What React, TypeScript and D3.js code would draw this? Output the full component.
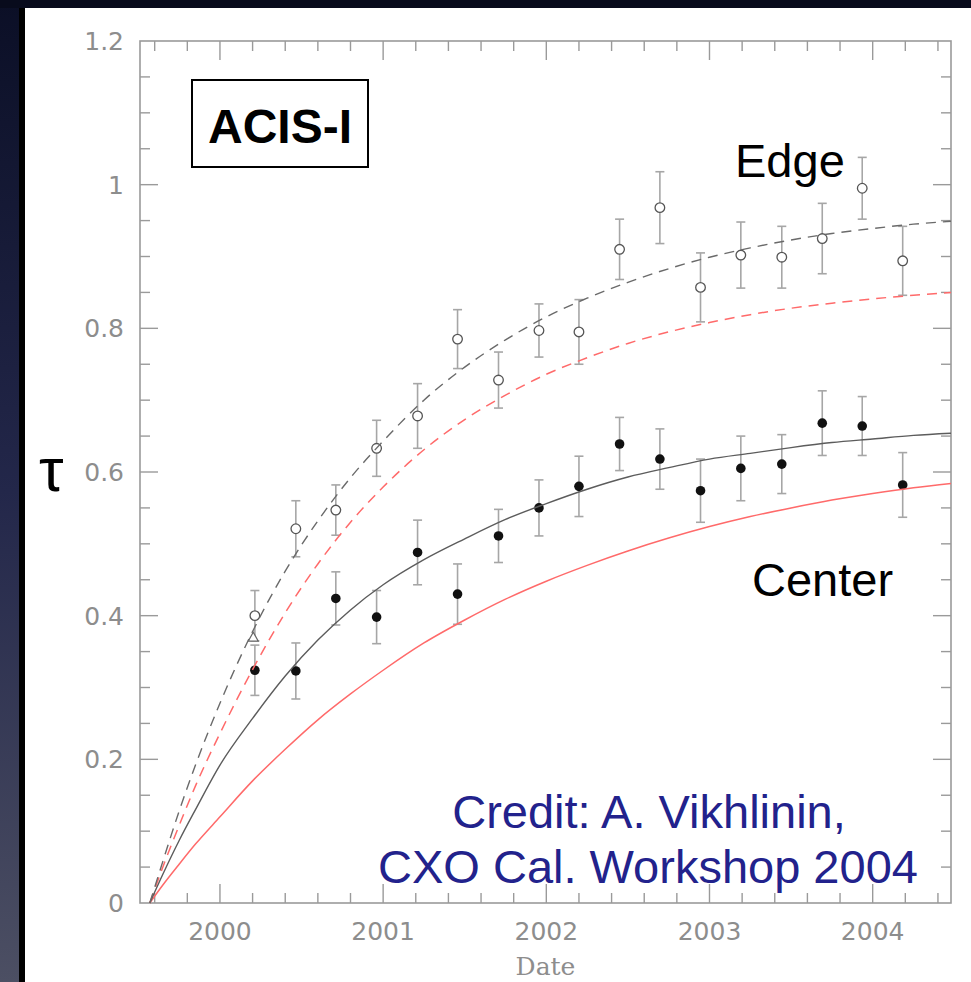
import React from 'react';
import * as d3 from 'd3';

const W = 971;
const H = 982;

// Observation epochs (decimal years)
const obsDates = [
  2000.214, 2000.465, 2000.71, 2000.96, 2001.211, 2001.456, 2001.707, 2001.955,
  2002.2, 2002.449, 2002.696, 2002.945, 2003.192, 2003.443, 2003.691, 2003.936, 2004.184,
];

// Edge of the chip: optical depth and 1-sigma errors
const edgeTau = [0.4, 0.521, 0.547, 0.633, 0.678, 0.785, 0.728, 0.797, 0.795, 0.91, 0.968, 0.857, 0.902, 0.899, 0.925, 0.995, 0.894];
const edgeErr = [0.035, 0.039, 0.035, 0.039, 0.045, 0.041, 0.039, 0.037, 0.045, 0.042, 0.05, 0.048, 0.046, 0.043, 0.049, 0.043, 0.048];

// Center of the chip
const centerTau = [0.324, 0.323, 0.424, 0.398, 0.488, 0.43, 0.511, 0.55, 0.58, 0.639, 0.618, 0.574, 0.605, 0.611, 0.668, 0.664, 0.582];
const centerErr = [0.035, 0.039, 0.037, 0.037, 0.045, 0.042, 0.037, 0.039, 0.042, 0.037, 0.042, 0.044, 0.045, 0.041, 0.045, 0.041, 0.045];

// Single early measurement drawn with a triangle
const triDate = [2000.204];
const triTau = [0.37];

// Fitted and model curves
const curveDates = [
  1999.57, 1999.65, 1999.75, 1999.85, 2000.0, 2000.2, 2000.4, 2000.6, 2000.8, 2001.0, 2001.25, 2001.5,
  2001.75, 2002.0, 2002.25, 2002.5, 2002.75, 2003.0, 2003.25, 2003.5, 2003.75, 2004.0, 2004.25, 2004.48,
];
const edgeFit = [0, 0.058, 0.128, 0.192, 0.278, 0.378, 0.462, 0.532, 0.592, 0.643, 0.7, 0.746, 0.784, 0.816, 0.842, 0.864, 0.883, 0.899, 0.912, 0.923, 0.932, 0.939, 0.945, 0.949];
const edgeModel = [0, 0.05, 0.108, 0.163, 0.236, 0.325, 0.404, 0.472, 0.53, 0.579, 0.631, 0.673, 0.707, 0.736, 0.759, 0.779, 0.795, 0.808, 0.819, 0.828, 0.835, 0.841, 0.846, 0.85];
const centerFit = [0, 0.04, 0.087, 0.13, 0.192, 0.257, 0.316, 0.366, 0.408, 0.443, 0.478, 0.507, 0.534, 0.556, 0.576, 0.593, 0.606, 0.618, 0.626, 0.634, 0.641, 0.646, 0.651, 0.654];
const centerModel = [0, 0.025, 0.054, 0.082, 0.12, 0.17, 0.214, 0.255, 0.291, 0.324, 0.362, 0.394, 0.423, 0.448, 0.47, 0.49, 0.508, 0.524, 0.538, 0.55, 0.561, 0.57, 0.578, 0.584];

// Axis labels
const xTickValues = [2000, 2001, 2002, 2003, 2004];
const xTickLabels = ['2000', '2001', '2002', '2003', '2004'];
const yTickValues = [0, 0.2, 0.4, 0.6, 0.8, 1.0, 1.2];
const yTickLabels = ['0', '0.2', '0.4', '0.6', '0.8', '1', '1.2'];

const AXIS = '#9a9a9a';
const LABEL = '#8d8d8d';
const ERR = '#a6a6a6';

export default function App() {
  const x = d3.scaleLinear().domain([1999.51, 2004.48]).range([140, 951]);
  const y = d3.scaleLinear().domain([0, 1.2]).range([903, 41]);
  const [x0, x1] = x.range();
  const [yb, yt] = y.range();

  const xMinor = d3.range(0, 25).map((i) => 1999.6 + i * 0.2).filter((v) => v < 2004.48);
  const yMinor = d3.range(1, 24).map((i) => i * 0.05);
  const isInt = (v: number) => Math.abs(v - Math.round(v)) < 1e-6;
  const isMajorY = (v: number) => Math.abs(v / 0.2 - Math.round(v / 0.2)) < 1e-6;

  const line = d3
    .line<number>()
    .x((_, i) => x(curveDates[i]))
    .y((d) => y(d))
    .curve(d3.curveMonotoneX);

  const cap = 4.5;
  const r = 4.8;

  const errorBars = (vals: number[], errs: number[]) =>
    obsDates.map((d, i) => {
      const cx = x(d);
      const top = y(vals[i] + errs[i]);
      const bot = y(vals[i] - errs[i]);
      return (
        <g key={i} stroke={ERR} strokeWidth={1.6}>
          <line x1={cx} x2={cx} y1={top} y2={bot} />
          <line x1={cx - cap} x2={cx + cap} y1={top} y2={top} />
          <line x1={cx - cap} x2={cx + cap} y1={bot} y2={bot} />
        </g>
      );
    });

  return (
    <svg
      width={W}
      height={H}
      style={{ position: 'absolute', left: 0, top: 0, display: 'block' }}
      xmlns="http://www.w3.org/2000/svg"
    >
      <defs>
        <linearGradient id="edgeBg" x1="0" y1="0" x2="0" y2="1">
          <stop offset="0" stopColor="#0b0f26" />
          <stop offset="0.5" stopColor="#23274a" />
          <stop offset="1" stopColor="#4c4f63" />
        </linearGradient>
      </defs>

      {/* slide background */}
      <rect x={0} y={0} width={W} height={H} fill="url(#edgeBg)" />
      <rect x={0} y={0} width={W} height={8} fill="#080b1c" />
      <rect x={19} y={8} width={6} height={H - 8} fill="#000" />
      <rect x={25} y={8} width={W - 25} height={H - 8} fill="#fff" />

      {/* frame */}
      <rect x={x0} y={yt} width={x1 - x0} height={yb - yt} fill="none" stroke={AXIS} strokeWidth={1.6} />

      {/* ticks on all four sides */}
      <g stroke={AXIS} strokeWidth={1.4}>
        {xMinor.map((v, i) => {
          const len = isInt(v) ? 19 : 10;
          return (
            <g key={i}>
              <line x1={x(v)} x2={x(v)} y1={yb} y2={yb - len} />
              <line x1={x(v)} x2={x(v)} y1={yt} y2={yt + len} />
            </g>
          );
        })}
        {yMinor.map((v, i) => {
          const len = isMajorY(v) ? 18 : 10;
          return (
            <g key={i}>
              <line x1={x0} x2={x0 + len} y1={y(v)} y2={y(v)} />
              <line x1={x1} x2={x1 - len} y1={y(v)} y2={y(v)} />
            </g>
          );
        })}
      </g>

      {/* tick labels */}
      <g fontFamily="'DejaVu Sans', sans-serif" fontSize={25} fill={LABEL}>
        {xTickValues.map((v, i) => (
          <text key={i} x={x(v)} y={940} textAnchor="middle">
            {xTickLabels[i]}
          </text>
        ))}
        {yTickValues.map((v, i) => (
          <text key={i} x={124} y={y(v) + 9} textAnchor="end">
            {yTickLabels[i]}
          </text>
        ))}
      </g>
      <text
        x={(x0 + x1) / 2}
        y={975}
        textAnchor="middle"
        fontFamily="'DejaVu Serif', serif"
        fontSize={25}
        fill={LABEL}
      >
        Date
      </text>
      <text x={39} y={491} fontFamily="'Liberation Sans', Arial, sans-serif" fontSize={62} fill="#000">
        τ
      </text>

      {/* error bars */}
      {errorBars(edgeTau, edgeErr)}
      {errorBars(centerTau, centerErr)}

      {/* markers */}
      {obsDates.map((d, i) => (
        <circle key={'e' + i} cx={x(d)} cy={y(edgeTau[i])} r={r} fill="#fff" stroke="#555" strokeWidth={1.3} />
      ))}
      {obsDates.map((d, i) => (
        <circle key={'c' + i} cx={x(d)} cy={y(centerTau[i])} r={r} fill="#111" />
      ))}
      {triDate.map((d, i) => {
        const cx = x(d);
        const cy = y(triTau[i]);
        return (
          <path
            key={'t' + i}
            d={`M${cx},${cy - 5} L${cx + 5},${cy + 4} L${cx - 5},${cy + 4} Z`}
            fill="#fff"
            stroke="#666"
            strokeWidth={1.2}
          />
        );
      })}

      {/* curves */}
      <path d={line(centerModel) || ''} fill="none" stroke="#ff6a6a" strokeWidth={1.5} />
      <path d={line(edgeModel) || ''} fill="none" stroke="#ff6a6a" strokeWidth={1.5} strokeDasharray="10 7" />
      <path d={line(centerFit) || ''} fill="none" stroke="#5c5c5c" strokeWidth={1.4} />
      <path d={line(edgeFit) || ''} fill="none" stroke="#6a6a6a" strokeWidth={1.4} strokeDasharray="10 7" />

      {/* annotations */}
      <rect x={192} y={80} width={176} height={87} fill="#fff" stroke="#000" strokeWidth={2} />
      <text
        x={280}
        y={143}
        textAnchor="middle"
        fontFamily="'Liberation Sans', Arial, sans-serif"
        fontWeight="bold"
        fontSize={48}
        fill="#000"
      >
        ACIS-I
      </text>
      <text x={735} y={177} fontFamily="'Liberation Sans', Arial, sans-serif" fontSize={47} fill="#000">
        Edge
      </text>
      <text x={752} y={596} fontFamily="'Liberation Sans', Arial, sans-serif" fontSize={47} fill="#000">
        Center
      </text>
      <g fontFamily="'Liberation Sans', Arial, sans-serif" fontSize={47} fill="#22228c" textAnchor="middle">
        <text x={649} y={828}>
          Credit: A. Vikhlinin,
        </text>
        <text x={648} y={883}>
          CXO Cal. Workshop 2004
        </text>
      </g>
    </svg>
  );
}
